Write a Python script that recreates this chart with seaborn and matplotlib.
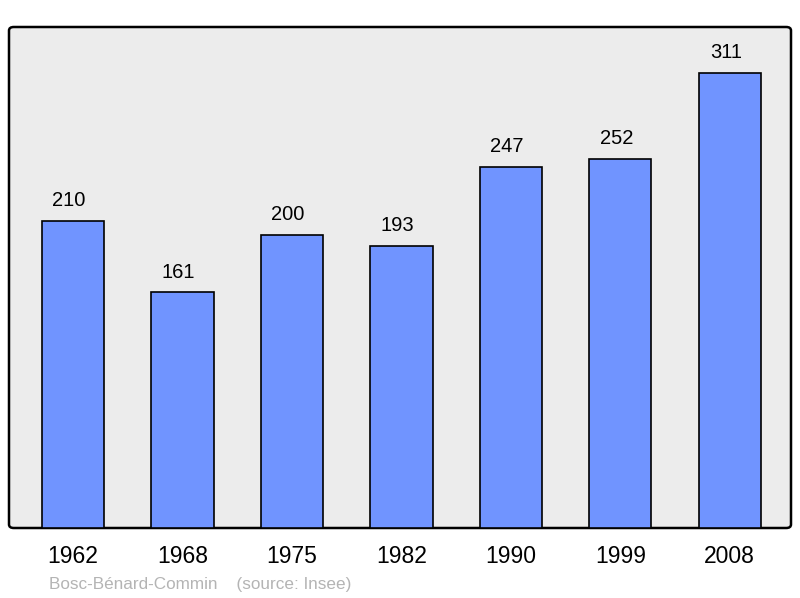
import matplotlib
matplotlib.use("Agg")
import matplotlib.pyplot as plt
from matplotlib.patches import FancyBboxPatch
import matplotlib.transforms as mtransforms
import seaborn as sns
import pandas as pd

years = ["1962", "1968", "1975", "1982", "1990", "1999", "2008"]
population = [210, 161, 200, 193, 247, 252, 311]
commune = "Bosc-Bénard-Commin"
source = "(source: Insee)"

sns.set_style("white")
plt.rcParams['font.family'] = ['Liberation Sans', 'DejaVu Sans']

df = pd.DataFrame({"year": years, "pop": population})

fig = plt.figure(figsize=(8, 5.98), dpi=100)
rect = [9 / 800, 1 - 528 / 598, 782 / 800, 501 / 598]
ax = fig.add_axes(rect)
ax.set_facecolor("none")

# rounded frame behind the bars
frame = FancyBboxPatch((rect[0], rect[1]), rect[2], rect[3],
                       boxstyle="round,pad=0,rounding_size=0.006",
                       transform=fig.transFigure, facecolor="#ececec",
                       edgecolor="black", linewidth=1.8, zorder=0,
                       clip_on=False)
ax.add_patch(frame)

sns.barplot(data=df, x="year", y="pop", ax=ax, color="#7094ff",
            saturation=1, width=0.57, edgecolor="black", linewidth=1.2,
            zorder=2)

# value labels sit a little left of the bar centre in the original
shift = mtransforms.offset_copy(ax.transData, fig=fig, x=-4, y=0, units="dots")
for i, v in enumerate(population):
    ax.text(i, v + 7.5, str(v), ha="center", va="bottom", fontsize=14.5,
            color="black", transform=shift)

ax.set_xlim(-0.585, 6.56)
ax.set_ylim(0, 342.5)
for s in ax.spines.values():
    s.set_visible(False)
ax.set_yticks([])
ax.set_xlabel("")
ax.set_ylabel("")
ax.tick_params(axis="x", length=0, labelsize=16.5, pad=12, labelcolor="black")

fig.text(49 / 800, 1 - 584 / 598, commune + "    " + source,
         color="#b4b4b4", fontsize=12.3, va="center", ha="left")

fig.savefig("out.png", dpi=100)
